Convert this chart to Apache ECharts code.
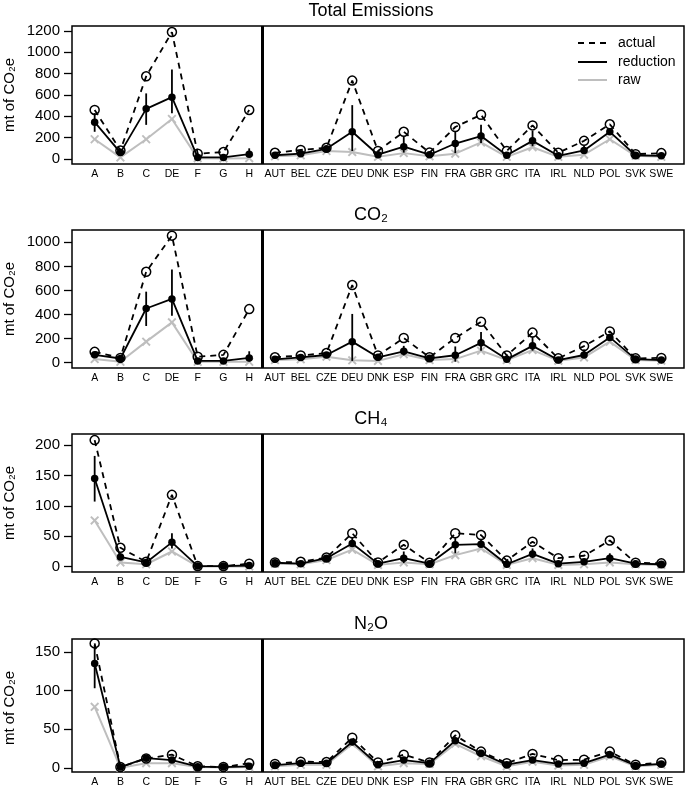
<!doctype html>
<html>
<head>
<meta charset="utf-8">
<title>Emissions</title>
<script src="https://cdn.jsdelivr.net/npm/echarts@6/dist/echarts.min.js"></script>
<style>
  html, body { margin: 0; padding: 0; background: #fff; }
  #chart { width: 685px; height: 788px; }
</style>
</head>
<body>
<div id="chart"></div>
<script>
// categories: sectors on the left, countries on the right
var labels = ['A', 'B', 'C', 'DE', 'F', 'G', 'H',
  'AUT', 'BEL', 'CZE', 'DEU', 'DNK', 'ESP', 'FIN', 'FRA', 'GBR', 'GRC', 'ITA', 'IRL', 'NLD', 'POL', 'SVK', 'SWE'];

// Total Emissions
var totActual    = [460, 80, 775, 1190, 50, 65, 460, 58, 85, 105, 735, 75, 255, 60, 300, 415, 75, 315, 58, 170, 325, 45, 55];
var totReduction = [345, 60, 470, 580, 15, 15, 45, 35, 50, 95, 255, 40, 115, 40, 145, 215, 35, 170, 30, 80, 255, 35, 30];
var totRaw       = [185, 15, 185, 375, 8, 5, 8, 25, 35, 75, 65, 20, 55, 25, 50, 155, 20, 110, 20, 40, 185, 30, 20];
var totLow       = [255, 45, 320, 430, 8, 8, 20, 28, 40, 85, 75, 28, 60, 30, 55, 150, 25, 120, 20, 55, 230, 28, 22];
var totHigh      = [430, 80, 615, 840, 25, 25, 100, 45, 60, 110, 505, 55, 210, 50, 255, 320, 50, 265, 40, 125, 290, 45, 40];
var totTicks     = [0, 200, 400, 600, 800, 1000, 1200];

// CO2
var co2Actual    = [90, 40, 755, 1055, 50, 65, 445, 45, 60, 80, 645, 60, 205, 45, 205, 340, 60, 250, 36, 138, 260, 36, 40];
var co2Reduction = [65, 35, 450, 530, 15, 15, 40, 28, 44, 64, 175, 45, 95, 36, 62, 165, 28, 140, 22, 64, 210, 30, 22];
var co2Raw       = [30, 8, 175, 335, 8, 8, 8, 22, 28, 50, 20, 15, 70, 22, 30, 100, 22, 105, 17, 44, 175, 22, 17];
var co2Low       = [55, 28, 305, 390, 10, 10, 10, 22, 35, 55, 15, 30, 60, 28, 8, 100, 20, 100, 15, 45, 185, 25, 18];
var co2High      = [80, 45, 590, 775, 25, 20, 95, 35, 55, 75, 405, 60, 140, 45, 135, 255, 40, 215, 30, 110, 240, 35, 30];
var co2Ticks     = [0, 200, 400, 600, 800, 1000];

// CH4
var ch4Actual    = [208, 31, 8, 118, 1, 1, 5, 7, 8, 15, 55, 7, 36, 6.5, 55, 52, 10, 41, 14, 18, 43, 6.5, 5.5];
var ch4Reduction = [145, 16, 7, 40, 1, 1, 2, 6.5, 5, 14, 38, 5, 14, 5, 36, 37, 4, 21, 5, 8, 14, 5, 4];
var ch4Raw       = [76, 7, 4, 25, 0.5, 0.5, 0.5, 5, 4, 11, 28, 3, 7, 4, 19, 30, 3, 14, 3, 4, 7, 4, 3];
var ch4Low       = [107, 12, 5, 30, 0.5, 0.5, 1, 5, 4, 12, 32, 4, 6, 4, 22, 33, 3, 14, 3, 5, 6, 4, 3];
var ch4High      = [182, 22, 9, 55, 1.5, 1.5, 4, 8, 7, 16, 48, 7, 25, 6, 47, 45, 6, 30, 8, 12, 22, 6, 5];
var ch4Ticks     = [0, 50, 100, 150, 200];

// N2O
var n2oActual    = [161, 1, 12, 17, 2, 1, 6, 5, 8, 7.5, 39, 7, 17, 7, 42, 21, 6, 18, 10, 10.5, 21, 4, 7];
var n2oReduction = [135, 1, 12.5, 10, 1.5, 1, 2, 3.5, 6, 6, 33.5, 4, 10, 6, 35, 19, 4, 10, 5, 6, 17, 3, 5];
var n2oRaw       = [79, 0, 6, 6, 1, 0.5, 1, 2, 4, 4, 31, 2, 6, 5, 31, 15, 2, 8, 3, 4, 15, 2, 4];
var n2oLow       = [103, 0.5, 10, 7, 1, 0.5, 1, 2.5, 5, 5, 31, 3, 7, 5, 32, 17, 3, 7, 4, 5, 15, 2.5, 4];
var n2oHigh      = [159, 1.5, 14, 13, 2, 1.5, 3, 4.5, 7, 7, 36, 5, 14, 7, 39, 21, 5, 14, 6, 8, 19, 3.5, 6];
var n2oTicks     = [0, 50, 100, 150];

var panels = [
  { title: 'Total Emissions', actual: totActual, reduction: totReduction, raw: totRaw, low: totLow, high: totHigh, ticks: totTicks, top: 26, min: -47, max: 1247 },
  { title: 'CO₂', actual: co2Actual, reduction: co2Reduction, raw: co2Raw, low: co2Low, high: co2High, ticks: co2Ticks, top: 230, min: -44, max: 1102 },
  { title: 'CH₄', actual: ch4Actual, reduction: ch4Reduction, raw: ch4Raw, low: ch4Low, high: ch4High, ticks: ch4Ticks, top: 434, min: -8.7, max: 218 },
  { title: 'N₂O', actual: n2oActual, reduction: n2oReduction, raw: n2oRaw, low: n2oLow, high: n2oHigh, ticks: n2oTicks, top: 639, min: -5.4, max: 166.7 }
];

var FONT = '"Liberation Sans", Arial, Helvetica, sans-serif';
var GRAY = '#bebebe';
var xPos = labels.map(function (l, i) { return i + 1; });
var crossPath = 'path://M0,1.5L1.5,0L5,3.5L8.5,0L10,1.5L6.5,5L10,8.5L8.5,10L5,6.5L1.5,10L0,8.5L3.5,5Z';
var segments = [[0, 7], [7, 23]];

function seg(arr, from, to) {
  var out = [];
  for (var i = from; i < to; i++) out.push([i + 1, arr[i]]);
  return out;
}

var grids = [], xAxes = [], yAxes = [], series = [], graphics = [];

panels.forEach(function (p, k) {
  grids.push({
    left: 72, top: p.top, width: 612, height: 138,
    show: true, borderColor: '#000', borderWidth: 1.5, backgroundColor: 'transparent'
  });
  xAxes.push({
    type: 'value', gridIndex: k, min: 0.12, max: 23.88,
    splitLine: { show: false }, axisLine: { show: false }, axisTick: { show: false },
    axisLabel: {
      customValues: xPos, color: '#000', fontSize: 10.5, fontFamily: FONT, margin: 5,
      formatter: function (v) { return labels[Math.round(v) - 1]; }
    }
  });
  yAxes.push({
    type: 'value', gridIndex: k, min: p.min, max: p.max,
    splitLine: { show: false }, axisLine: { show: false },
    axisTick: { show: true, customValues: p.ticks, length: 8, lineStyle: { color: '#000', width: 1.3 } },
    axisLabel: {
      customValues: p.ticks, color: '#000', fontSize: 15, fontFamily: FONT, margin: 12,
      formatter: function (v) { return String(v); }
    }
  });

  segments.forEach(function (s, j) {
    series.push({
      type: 'line', xAxisIndex: k, yAxisIndex: k, z: 2,
      data: seg(p.raw, s[0], s[1]),
      lineStyle: { color: GRAY, width: 2 },
      symbol: crossPath, symbolSize: 9,
      itemStyle: { color: GRAY },
      markLine: j === 0 ? {
        silent: true, symbol: 'none', label: { show: false },
        lineStyle: { color: '#000', width: 3, type: 'solid' },
        data: [{ xAxis: 7.5 }]
      } : undefined
    });
    series.push({
      type: 'line', xAxisIndex: k, yAxisIndex: k, z: 3,
      data: seg(p.reduction, s[0], s[1]),
      lineStyle: { color: '#000', width: 1.8 },
      symbol: 'circle', symbolSize: 7.5,
      itemStyle: { color: '#000' }
    });
    series.push({
      type: 'line', xAxisIndex: k, yAxisIndex: k, z: 4,
      data: seg(p.actual, s[0], s[1]),
      lineStyle: { color: '#000', width: 1.8, type: [6, 5] },
      symbol: 'circle', symbolSize: 9,
      itemStyle: { color: 'rgba(0,0,0,0)', borderColor: '#000', borderWidth: 1.5 }
    });
  });

  // error bars on the reduction estimate
  series.push({
    type: 'custom', xAxisIndex: k, yAxisIndex: k, z: 3,
    data: p.low.map(function (lo, i) { return [i + 1, lo, p.high[i]]; }),
    encode: { x: 0, y: [1, 2] },
    renderItem: function (params, api) {
      var x = api.value(0);
      var a = api.coord([x, api.value(1)]);
      var b = api.coord([x, api.value(2)]);
      return { type: 'line', shape: { x1: a[0], y1: a[1], x2: b[0], y2: b[1] }, style: { stroke: '#000', lineWidth: 1.8 } };
    }
  });

  graphics.push({
    type: 'text', x: 371, y: p.top - 24,
    style: { text: p.title, font: '18px ' + FONT, fill: '#000', textAlign: 'center' }
  });
  graphics.push({
    type: 'text', x: 10, y: p.top + 69, rotation: Math.PI / 2,
    style: { text: 'mt of CO₂e', font: '15px ' + FONT, fill: '#000', textAlign: 'center', textVerticalAlign: 'middle' }
  });
});

// legend (top panel)
var legendItems = [
  { name: 'actual', color: '#000', dash: [6, 5], y: 43 },
  { name: 'reduction', color: '#000', dash: null, y: 62 },
  { name: 'raw', color: GRAY, dash: null, y: 80 }
];
legendItems.forEach(function (it) {
  graphics.push({
    type: 'line', shape: { x1: 578, y1: it.y, x2: 607, y2: it.y },
    style: { stroke: it.color, lineWidth: 2, lineDash: it.dash }
  });
  graphics.push({
    type: 'text', x: 618, y: it.y,
    style: { text: it.name, font: '14px ' + FONT, fill: '#000', textVerticalAlign: 'middle' }
  });
});

var myChart = echarts.init(document.getElementById('chart'));
myChart.setOption({
  animation: false,
  backgroundColor: '#fff',
  textStyle: { fontFamily: FONT },
  grid: grids,
  xAxis: xAxes,
  yAxis: yAxes,
  series: series,
  graphic: graphics
});
</script>
</body>
</html>
